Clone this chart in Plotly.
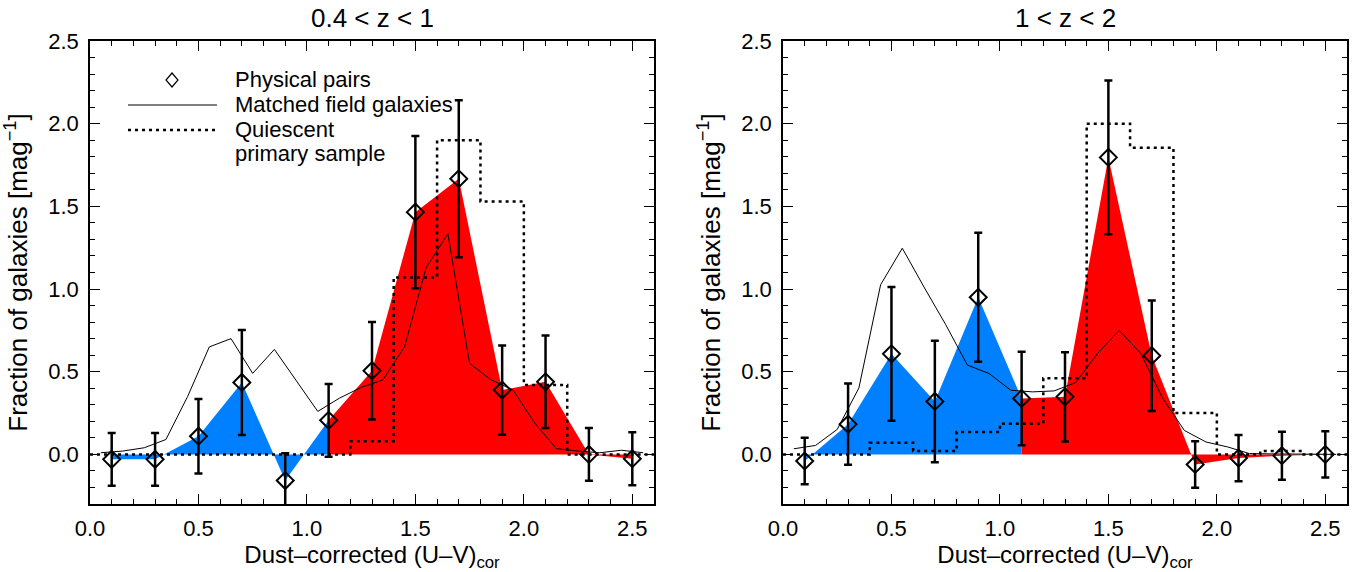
import plotly.graph_objects as go

# ---------------- data ----------------
color_bins = [0.1, 0.3, 0.5, 0.7, 0.9, 1.1, 1.3, 1.5, 1.7, 1.9, 2.1, 2.3, 2.5]
bin_edges = [0.0, 0.2, 0.4, 0.6, 0.8, 1.0, 1.2, 1.4, 1.6, 1.8, 2.0, 2.2, 2.4, 2.6]
field_x = [0.05, 0.15, 0.25, 0.35, 0.45, 0.55, 0.65, 0.75, 0.85, 0.95, 1.05, 1.15, 1.25,
           1.35, 1.45, 1.55, 1.65, 1.75, 1.85, 1.95, 2.05, 2.15, 2.25, 2.35, 2.45, 2.55]

# 0.4 < z < 1
pairs_lo = [-0.03, -0.03, 0.11, 0.435, -0.158, 0.206, 0.506, 1.465, 1.667, 0.389, 0.439, 0.0, -0.026]
pairs_lo_err = [0.16, 0.16, 0.225, 0.317, 0.165, 0.22, 0.295, 0.46, 0.475, 0.27, 0.28, 0.16, 0.16]
field_lo = [0.01, 0.02, 0.04, 0.09, 0.35, 0.65, 0.70, 0.49, 0.635, 0.45, 0.26, 0.34, 0.405,
            0.45, 0.65, 1.13, 1.335, 0.55, 0.45, 0.39, 0.19, 0.035, 0.02, 0.01, 0.025, 0.01]
quiescent_lo = [0, 0, 0, 0, 0, 0, 0.08, 1.07, 1.9, 1.53, 0.42, 0, 0]

# 1 < z < 2
pairs_hi = [-0.04, 0.183, 0.608, 0.32, 0.95, 0.338, 0.348, 1.796, 0.597, -0.061, -0.022, -0.008, 0.0]
pairs_hi_err = [0.14, 0.245, 0.405, 0.367, 0.39, 0.282, 0.27, 0.465, 0.334, 0.14, 0.14, 0.145, 0.14]
field_hi = [0.034, 0.054, 0.151, 0.402, 1.026, 1.247, 1.012, 0.785, 0.54, 0.489, 0.388, 0.378, 0.384,
            0.435, 0.61, 0.75, 0.61, 0.34, 0.145, 0.075, 0.045, 0.005, 0.003, 0.002, 0.0, 0.0]
quiescent_hi = [0, 0, 0.07, 0.02, 0.135, 0.185, 0.46, 2.0, 1.855, 0.25, 0, 0.02, 0]

titles = ["0.4 < z < 1", "1 < z < 2"]
legend_labels = ["Physical pairs", "Matched field galaxies", "Quiescent", "primary sample"]
split = 5  # index of colour 1.1 where blue turns to red

BLUE = "#0080FF"
RED = "#FF0000"
FONT = "Liberation Sans, Arial, Helvetica, sans-serif"

W, H = 1367, 572
# plot-area pixel boxes
boxes = [(90, 654), (783, 1347)]
top_px, bot_px = 41, 504

fig = go.Figure()

panels = [(pairs_lo, pairs_lo_err, field_lo, quiescent_lo),
          (pairs_hi, pairs_hi_err, field_hi, quiescent_hi)]

for i, (pairs, err, field, quies) in enumerate(panels):
    xa = "x" if i == 0 else "x2"
    ya = "y" if i == 0 else "y2"
    # blue fill
    fig.add_trace(go.Scatter(x=color_bins[:split + 1], y=pairs[:split + 1], mode="none",
                             fill="tozeroy", fillcolor=BLUE, xaxis=xa, yaxis=ya,
                             showlegend=False, hoverinfo="skip"))
    # red fill
    fig.add_trace(go.Scatter(x=color_bins[split:], y=pairs[split:], mode="none",
                             fill="tozeroy", fillcolor=RED, xaxis=xa, yaxis=ya,
                             showlegend=False, hoverinfo="skip"))
    # quiescent primary sample (histogram steps)
    fig.add_trace(go.Scatter(x=bin_edges, y=list(quies) + [quies[-1]], mode="lines",
                             line=dict(color="black", width=2.5, dash="3px,4px", shape="hv"),
                             xaxis=xa, yaxis=ya, showlegend=False))
    # matched field galaxies
    fig.add_trace(go.Scatter(x=field_x, y=field, mode="lines",
                             line=dict(color="black", width=1),
                             xaxis=xa, yaxis=ya, showlegend=False))
    # physical pairs
    fig.add_trace(go.Scatter(x=color_bins, y=pairs, mode="markers",
                             marker=dict(symbol="diamond-open", size=13, color="black",
                                         line=dict(width=2, color="black")),
                             error_y=dict(type="data", array=err, visible=True,
                                          color="black", thickness=2.5, width=4),
                             xaxis=xa, yaxis=ya, showlegend=False))

def xd(px0, px1):
    return [px0 / W, px1 / W]

axis_common = dict(
    showgrid=False, zeroline=False, showline=True, linecolor="black", linewidth=1.5,
    mirror="ticks", ticks="inside", ticklen=10, tickwidth=1.2, tickcolor="black",
    tickfont=dict(family=FONT, size=22, color="black"),
    minor=dict(ticks="inside", ticklen=5, tickwidth=1.2, tickcolor="black", showgrid=False),
    tickformat=".1f", automargin=False,
)

ydom = [1 - bot_px / H, 1 - top_px / H]
layout = dict(
    width=W, height=H, margin=dict(l=0, r=0, t=0, b=0, autoexpand=False),
    paper_bgcolor="white", plot_bgcolor="white", showlegend=False,
    font=dict(family=FONT, color="black"),
)
for i, (px0, px1) in enumerate(boxes):
    sx = "" if i == 0 else "2"
    layout["xaxis" + sx] = dict(axis_common, domain=xd(px0, px1), range=[0, 2.6], tick0=0, dtick=0.5,
                                minor=dict(axis_common["minor"], dtick=0.1),
                                anchor="y" + sx, ticklabelstandoff=4,
                                title=dict(text="Dust–corrected (U–V)<sub>cor</sub>",
                                           font=dict(family=FONT, size=24), standoff=6))
    layout["yaxis" + sx] = dict(axis_common, domain=ydom, range=[-0.3, 2.5], tick0=0, dtick=0.5,
                                minor=dict(axis_common["minor"], dtick=0.1),
                                anchor="x" + sx, ticklabelstandoff=5,
                                title=dict(text="Fraction of galaxies [mag<sup>−1</sup>]",
                                           font=dict(family=FONT, size=26), standoff=13))
fig.update_layout(**layout)

annotations = []
for i, (px0, px1) in enumerate(boxes):
    annotations.append(dict(text=titles[i], x=(px0 + px1) / 2 / W, y=1 - 18 / H,
                            xref="paper", yref="paper", xanchor="center", yanchor="middle",
                            showarrow=False, font=dict(family=FONT, size=26, color="black")))

# hand-drawn legend in left panel (pixel positions converted to paper coords)
leg_text_x = 233
leg_rows_px = [79, 104, 129, 154]
for txt, py in zip(legend_labels, leg_rows_px):
    annotations.append(dict(text=txt, x=leg_text_x / W, y=1 - py / H, xref="paper", yref="paper",
                            xanchor="left", yanchor="middle", showarrow=False,
                            font=dict(family=FONT, size=22, color="black")))
fig.update_layout(annotations=annotations)

def P(px, py):
    return px / W, 1 - py / H

shapes = []
# diamond symbol
cx, cy = 172, 80
pts = [P(cx, cy - 7), P(cx + 6, cy), P(cx, cy + 7), P(cx - 6, cy)]
path = "M " + " L ".join(f"{a:.5f},{b:.5f}" for a, b in pts) + " Z"
shapes.append(dict(type="path", path=path, xref="paper", yref="paper",
                   line=dict(color="black", width=1.2)))
x0, y0 = P(128, 105)
x1, _ = P(217, 105)
shapes.append(dict(type="line", x0=x0, x1=x1, y0=y0, y1=y0, xref="paper", yref="paper",
                   line=dict(color="black", width=1.2)))
x0, y0 = P(128, 130)
shapes.append(dict(type="line", x0=x0, x1=x1, y0=y0, y1=y0, xref="paper", yref="paper",
                   line=dict(color="black", width=2.5, dash="3px,4px")))
fig.update_layout(shapes=shapes)

fig.write_html("out.html")
